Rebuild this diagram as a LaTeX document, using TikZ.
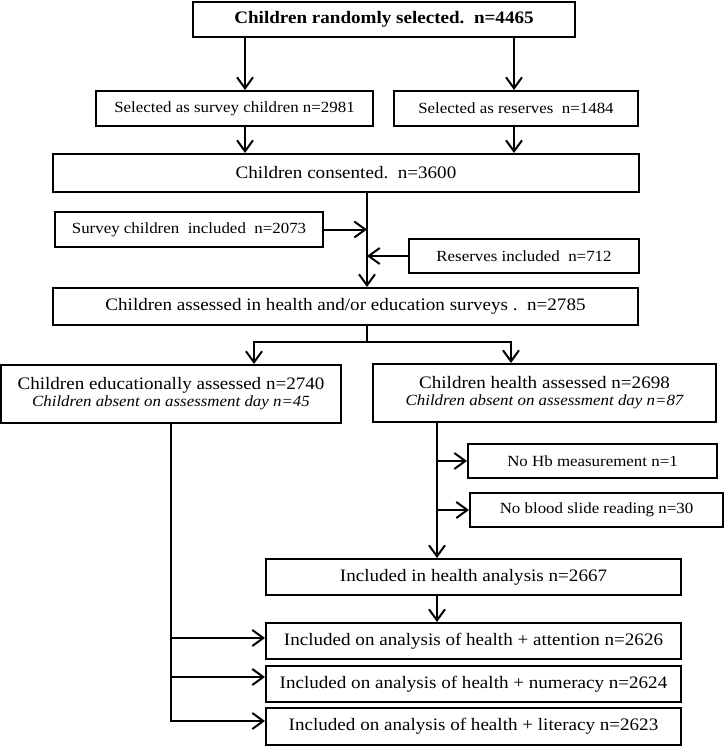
\documentclass[tikz,border=0pt]{standalone}
\usepackage{fontspec}
\setmainfont{Liberation Serif}[FakeStretch=1.09]
\usetikzlibrary{arrows.meta}
\newcommand\mainsz{\fontsize{17.5}{19}\selectfont}
\newcommand\smallsz{\fontsize{15.5}{17}\selectfont}
\begin{document}
\begin{tikzpicture}[x=1pt,y=-1pt,
  box/.style={draw, line width=2pt, rectangle, inner sep=0pt, align=center},
  bigbox/.style={box, font=\mainsz},
  smallbox/.style={box, font=\smallsz},
  conn/.style={line width=2pt},
  arr/.style={conn, -{Straight Barb[length=11pt,width=16pt,line width=2pt]}}]
\useasboundingbox (0,0) rectangle (725,746);

% nodes
\node[bigbox, minimum width=382pt, minimum height=35pt] (top) at (384,19.5) {\bfseries Children randomly selected.\ \ n=4465};
\node[smallbox, minimum width=277pt, minimum height=35pt] (survey) at (234.5,108.5) {Selected as survey children n=2981};
\node[smallbox, minimum width=244pt, minimum height=35pt] (reserves) at (516,108.5) {Selected as reserves\ \ n=1484};
\node[bigbox, minimum width=586pt, minimum height=38pt] (consented) at (346,173) {Children consented.\ \ n=3600};
\node[smallbox, minimum width=268pt, minimum height=35pt] (survincl) at (189,229.5) {Survey children\ \ included\ \ n=2073};
\node[smallbox, minimum width=230pt, minimum height=34pt] (resincl) at (524,256) {Reserves included\ \ n=712};
\node[bigbox, minimum width=585pt, minimum height=37pt] (assessed) at (345.5,306.5) {Children assessed in health and/or education surveys .\ \ n=2785};
\node[bigbox, minimum width=340pt, minimum height=58pt] (edu) at (171,394) {Children educationally assessed n=2740\\[-2pt]{\smallsz\itshape Children absent on assessment day n=45}};
\node[bigbox, minimum width=343pt, minimum height=58pt] (health) at (544.5,393) {Children health assessed n=2698\\[-2pt]{\smallsz\itshape Children absent on assessment day n=87}};
\node[smallbox, minimum width=249pt, minimum height=34pt] (nohb) at (592.5,461) {No Hb measurement n=1};
\node[smallbox, minimum width=253pt, minimum height=34pt] (noblood) at (596.5,510) {No blood slide reading n=30};
\node[bigbox, minimum width=415pt, minimum height=36pt] (hanal) at (473.5,577) {Included in health analysis n=2667};
\node[bigbox, minimum width=415pt, minimum height=36pt] (attention) at (473.5,641) {Included on analysis of health + attention n=2626};
\node[bigbox, minimum width=415pt, minimum height=36pt] (numeracy) at (473.5,684) {Included on analysis of health + numeracy n=2624};
\node[bigbox, minimum width=415pt, minimum height=37pt] (literacy) at (473.5,726.5) {Included on analysis of health + literacy n=2623};

% column coordinates
\coordinate (cL) at (245,0);
\coordinate (cR) at (514,0);
\coordinate (cM) at (367,0);
\coordinate (sL) at (254,0);
\coordinate (sR) at (511,0);
\coordinate (splitY) at (0,342);
\coordinate (eX) at (171,0);
\coordinate (hX) at (437,0);
\coordinate (attIn) at ([yshift=3pt]attention.west);
\coordinate (numIn) at ([yshift=7pt]numeracy.west);
\coordinate (litIn) at ([yshift=5.5pt]literacy.west);

% connectors
\draw[arr] (top.south -| cL) -- (survey.north -| cL);
\draw[arr] (top.south -| cR) -- (reserves.north -| cR);
\draw[arr] (survey.south -| cL) -- (consented.north -| cL);
\draw[arr] (reserves.south -| cR) -- (consented.north -| cR);
\draw[arr] (consented.south -| cM) -- (assessed.north -| cM);
\draw[arr] (survincl.east) -- (survincl.east -| cM);
\draw[arr] (resincl.west) -- (resincl.west -| cM);
\draw[conn] (assessed.south -| cM) -- (splitY -| cM);
\draw[arr] (splitY -| cM) -| (edu.north -| sL);
\draw[arr] (splitY -| cM) -| (health.north -| sR);
\draw[arr] (edu.south -| eX) |- (litIn);
\draw[arr] (attIn -| eX) -- (attIn);
\draw[arr] (numIn -| eX) -- (numIn);
\draw[arr] (health.south -| hX) -- (hanal.north -| hX);
\draw[arr] (nohb.west -| hX) -- (nohb.west);
\draw[arr] (noblood.west -| hX) -- (noblood.west);
\draw[arr] (hanal.south -| hX) -- (attention.north -| hX);
\end{tikzpicture}
\end{document}
